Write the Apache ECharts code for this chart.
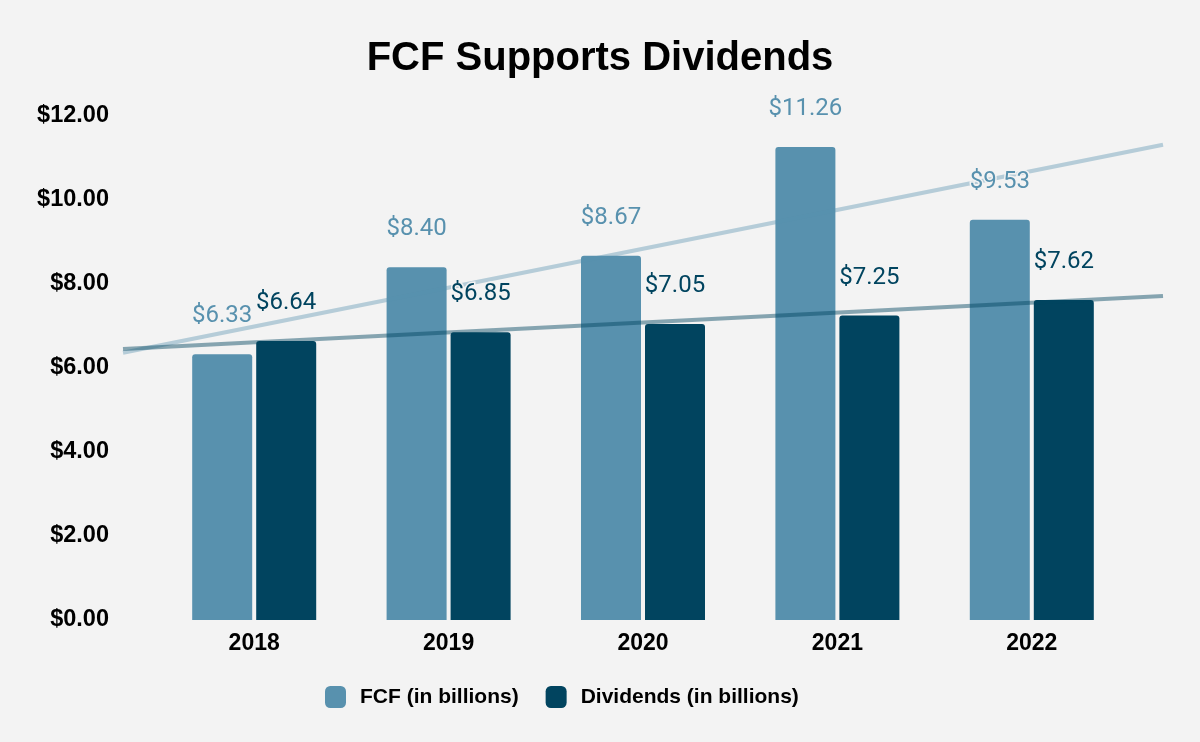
<!DOCTYPE html>
<html>
<head>
<meta charset="utf-8">
<script src="https://cdn.jsdelivr.net/npm/echarts@6/dist/echarts.min.js"></script>
<style>
  html, body { margin: 0; padding: 0; background: #f3f3f3; }
  #chart { width: 1200px; height: 742px; }
</style>
</head>
<body>
<div id="chart"></div>
<script>
const categories = ['2018', '2019', '2020', '2021', '2022'];
const fcf = [6.33, 8.40, 8.67, 11.26, 9.53];
const dividends = [6.64, 6.85, 7.05, 7.25, 7.62];
const yTicks = [0, 2, 4, 6, 8, 10, 12];
const seriesNames = ['FCF (in billions)', 'Dividends (in billions)'];
const titleText = 'FCF Supports Dividends';

const FCF_COLOR = '#5891ae';
const DIV_COLOR = '#01445f';
const BG = '#f3f3f3';

// linear least-squares trendline over category index
function trend(vals, xs) {
  const n = vals.length;
  const mx = (n - 1) / 2;
  const my = vals.reduce((a, b) => a + b, 0) / n;
  let num = 0, den = 0;
  vals.forEach((v, i) => { num += (i - mx) * (v - my); den += (i - mx) * (i - mx); });
  const k = num / den;
  return xs.map(x => [x, my + k * (x - mx)]);
}
const TR_MIN = -0.674, TR_MAX = 4.674;

const chart = echarts.init(document.getElementById('chart'));
const labelBase = {
  show: true, position: 'top', distance: 26,
  fontFamily: 'Roboto', fontSize: 24,
  textBorderColor: BG, textBorderWidth: 3,
  formatter: p => '$' + Number(p.value).toFixed(2)
};
chart.setOption({
  backgroundColor: BG,
  animation: false,
  title: {
    text: titleText, left: 'center', top: 34,
    textStyle: { fontFamily: 'Liberation Sans', fontWeight: 'bold', fontSize: 40, color: '#000' }
  },
  legend: {
    data: seriesNames, left: 320, top: 681,
    itemWidth: 21, itemHeight: 22, itemGap: 27,
    icon: 'roundRect',
    textStyle: { fontFamily: 'Liberation Sans', fontWeight: 'bold', fontSize: 21, color: '#000', padding: [0, 0, 0, 9] }
  },
  grid: [
    { left: 157, right: 71, top: 116, bottom: 122 },
    { left: 123, right: 37, top: 116, bottom: 122 }
  ],
  xAxis: [
    { type: 'category', data: categories, gridIndex: 0,
      axisLine: { show: false }, axisTick: { show: false },
      axisLabel: { margin: 12, fontFamily: 'Liberation Sans', fontWeight: 'bold', fontSize: 23, color: '#000' } },
    { type: 'category', data: categories, gridIndex: 0, show: false },
    { type: 'value', gridIndex: 1, min: TR_MIN, max: TR_MAX, show: false }
  ],
  yAxis: [
    { type: 'value', gridIndex: 0, min: yTicks[0], max: yTicks[yTicks.length - 1], interval: yTicks[1] - yTicks[0],
      axisLine: { show: false }, axisTick: { show: false }, splitLine: { show: false },
      axisLabel: { margin: 48, fontFamily: 'Liberation Sans', fontWeight: 'bold', fontSize: 23.5, color: '#000',
        formatter: v => '$' + v.toFixed(2) } },
    { type: 'value', gridIndex: 1, min: yTicks[0], max: yTicks[yTicks.length - 1], show: false }
  ],
  series: [
    { name: seriesNames[0], type: 'bar', data: fcf, xAxisIndex: 0, yAxisIndex: 0,
      barWidth: 60, barGap: '6.67%', z: 2,
      itemStyle: { color: FCF_COLOR, borderRadius: [3, 3, 0, 0] } },
    { name: seriesNames[1], type: 'bar', data: dividends, xAxisIndex: 0, yAxisIndex: 0,
      barWidth: 60, barGap: '6.67%', z: 2,
      itemStyle: { color: DIV_COLOR, borderRadius: [3, 3, 0, 0] } },
    { name: 'FCF trend', type: 'line', xAxisIndex: 2, yAxisIndex: 1, z: 3,
      data: trend(fcf, [TR_MIN, TR_MAX]), symbol: 'none', silent: true,
      lineStyle: { color: FCF_COLOR, width: 4, opacity: 0.4 } },
    { name: 'Dividends trend', type: 'line', xAxisIndex: 2, yAxisIndex: 1, z: 3,
      data: trend(dividends, [TR_MIN, TR_MAX]), symbol: 'none', silent: true,
      lineStyle: { color: DIV_COLOR, width: 4, opacity: 0.45 } },
    { name: 'FCF labels', type: 'bar', data: fcf, xAxisIndex: 1, yAxisIndex: 0,
      barWidth: 60, barGap: '6.67%', z: 5, silent: true,
      itemStyle: { color: 'rgba(0,0,0,0)' },
      label: Object.assign({}, labelBase, { color: FCF_COLOR }) },
    { name: 'Dividends labels', type: 'bar', data: dividends, xAxisIndex: 1, yAxisIndex: 0,
      barWidth: 60, barGap: '6.67%', z: 5, silent: true,
      itemStyle: { color: 'rgba(0,0,0,0)' },
      label: Object.assign({}, labelBase, { color: DIV_COLOR }) }
  ]
});
</script>
</body>
</html>
